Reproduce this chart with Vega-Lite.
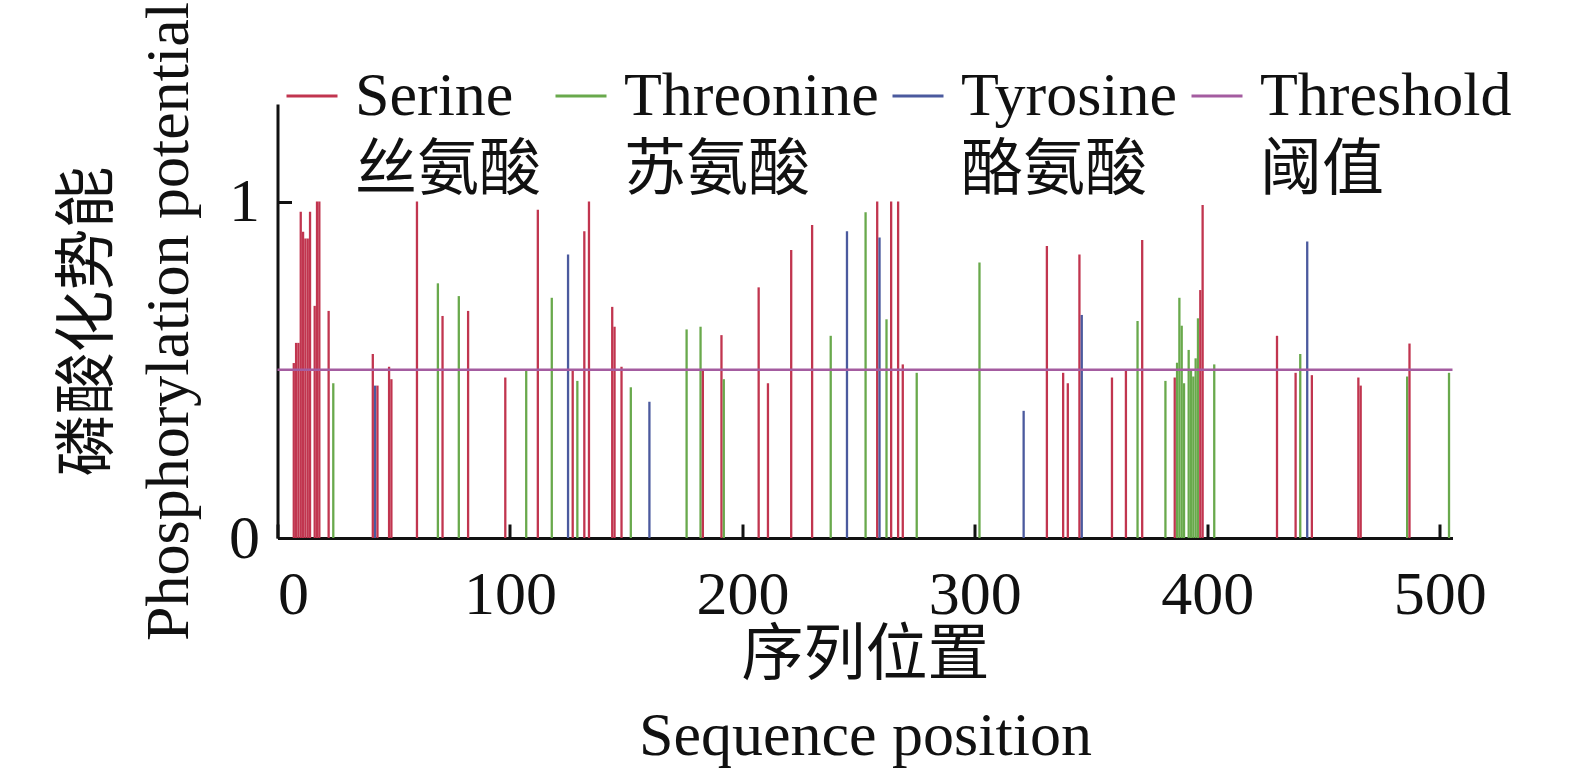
{
  "$schema": "https://vega.github.io/schema/vega-lite/v6.json",
  "description": "Phosphorylation potential by sequence position",
  "width": 1175,
  "height": 434,
  "autosize": "none",
  "padding": {"left": 277.5, "top": 104, "right": 122.5, "bottom": 233},
  "background": "white",
  "datasets": {
    "sites": [
      {"pos": 7, "value": 0.52, "type": "Serine"},
      {"pos": 8, "value": 0.58, "type": "Serine"},
      {"pos": 9, "value": 0.58, "type": "Serine"},
      {"pos": 10, "value": 0.97, "type": "Serine"},
      {"pos": 11, "value": 0.91, "type": "Serine"},
      {"pos": 12, "value": 0.89, "type": "Serine"},
      {"pos": 13, "value": 0.89, "type": "Serine"},
      {"pos": 14, "value": 0.97, "type": "Serine"},
      {"pos": 16, "value": 0.69, "type": "Serine"},
      {"pos": 17, "value": 1.0, "type": "Serine"},
      {"pos": 18, "value": 1.0, "type": "Serine"},
      {"pos": 22, "value": 0.675, "type": "Serine"},
      {"pos": 24, "value": 0.46, "type": "Threonine"},
      {"pos": 41, "value": 0.547, "type": "Serine"},
      {"pos": 42, "value": 0.453, "type": "Tyrosine"},
      {"pos": 43, "value": 0.453, "type": "Serine"},
      {"pos": 48, "value": 0.509, "type": "Serine"},
      {"pos": 49, "value": 0.472, "type": "Serine"},
      {"pos": 60, "value": 1.0, "type": "Serine"},
      {"pos": 69, "value": 0.757, "type": "Threonine"},
      {"pos": 71, "value": 0.66, "type": "Serine"},
      {"pos": 78, "value": 0.719, "type": "Threonine"},
      {"pos": 82, "value": 0.675, "type": "Serine"},
      {"pos": 98, "value": 0.477, "type": "Serine"},
      {"pos": 107, "value": 0.497, "type": "Threonine"},
      {"pos": 112, "value": 0.976, "type": "Serine"},
      {"pos": 118, "value": 0.714, "type": "Threonine"},
      {"pos": 125, "value": 0.843, "type": "Tyrosine"},
      {"pos": 127, "value": 0.497, "type": "Serine"},
      {"pos": 129, "value": 0.467, "type": "Threonine"},
      {"pos": 132, "value": 0.912, "type": "Serine"},
      {"pos": 134, "value": 1.0, "type": "Serine"},
      {"pos": 144, "value": 0.687, "type": "Serine"},
      {"pos": 145, "value": 0.628, "type": "Serine"},
      {"pos": 148, "value": 0.509, "type": "Serine"},
      {"pos": 152, "value": 0.448, "type": "Threonine"},
      {"pos": 160, "value": 0.405, "type": "Tyrosine"},
      {"pos": 176, "value": 0.62, "type": "Threonine"},
      {"pos": 182, "value": 0.628, "type": "Threonine"},
      {"pos": 183, "value": 0.497, "type": "Serine"},
      {"pos": 191, "value": 0.603, "type": "Serine"},
      {"pos": 192, "value": 0.472, "type": "Threonine"},
      {"pos": 207, "value": 0.745, "type": "Serine"},
      {"pos": 211, "value": 0.46, "type": "Serine"},
      {"pos": 221, "value": 0.856, "type": "Serine"},
      {"pos": 230, "value": 0.93, "type": "Serine"},
      {"pos": 238, "value": 0.601, "type": "Threonine"},
      {"pos": 245, "value": 0.912, "type": "Tyrosine"},
      {"pos": 253, "value": 0.968, "type": "Threonine"},
      {"pos": 258, "value": 1.0, "type": "Serine"},
      {"pos": 259, "value": 0.893, "type": "Tyrosine"},
      {"pos": 262, "value": 0.65, "type": "Threonine"},
      {"pos": 264, "value": 1.0, "type": "Serine"},
      {"pos": 267, "value": 1.0, "type": "Serine"},
      {"pos": 269, "value": 0.516, "type": "Serine"},
      {"pos": 275, "value": 0.491, "type": "Threonine"},
      {"pos": 302, "value": 0.819, "type": "Threonine"},
      {"pos": 321, "value": 0.378, "type": "Tyrosine"},
      {"pos": 331, "value": 0.868, "type": "Serine"},
      {"pos": 338, "value": 0.491, "type": "Serine"},
      {"pos": 340, "value": 0.46, "type": "Serine"},
      {"pos": 345, "value": 0.843, "type": "Serine"},
      {"pos": 346, "value": 0.663, "type": "Tyrosine"},
      {"pos": 359, "value": 0.477, "type": "Serine"},
      {"pos": 365, "value": 0.497, "type": "Serine"},
      {"pos": 370, "value": 0.645, "type": "Threonine"},
      {"pos": 372, "value": 0.886, "type": "Serine"},
      {"pos": 382, "value": 0.467, "type": "Threonine"},
      {"pos": 386, "value": 0.477, "type": "Serine"},
      {"pos": 387, "value": 0.521, "type": "Threonine"},
      {"pos": 388, "value": 0.714, "type": "Threonine"},
      {"pos": 389, "value": 0.631, "type": "Threonine"},
      {"pos": 390, "value": 0.46, "type": "Threonine"},
      {"pos": 392, "value": 0.559, "type": "Threonine"},
      {"pos": 393, "value": 0.497, "type": "Threonine"},
      {"pos": 394, "value": 0.48, "type": "Threonine"},
      {"pos": 395, "value": 0.534, "type": "Threonine"},
      {"pos": 396, "value": 0.653, "type": "Threonine"},
      {"pos": 397, "value": 0.737, "type": "Serine"},
      {"pos": 398, "value": 0.99, "type": "Serine"},
      {"pos": 403, "value": 0.516, "type": "Threonine"},
      {"pos": 430, "value": 0.601, "type": "Serine"},
      {"pos": 438, "value": 0.491, "type": "Serine"},
      {"pos": 440, "value": 0.547, "type": "Threonine"},
      {"pos": 443, "value": 0.881, "type": "Tyrosine"},
      {"pos": 445, "value": 0.484, "type": "Serine"},
      {"pos": 465, "value": 0.477, "type": "Serine"},
      {"pos": 466, "value": 0.453, "type": "Serine"},
      {"pos": 486, "value": 0.48, "type": "Threonine"},
      {"pos": 487, "value": 0.578, "type": "Serine"},
      {"pos": 504, "value": 0.491, "type": "Threonine"}
    ],
    "threshold": [
      {"type": "Threshold", "value": 0.5}
    ]
  },
  "layer": [
    {
      "data": {"name": "sites"},
      "mark": {"type": "rule", "strokeWidth": 2.3},
      "encoding": {
        "x": {
          "field": "pos",
          "type": "quantitative",
          "scale": {"domain": [0, 505.5], "nice": false, "zero": false},
          "axis": {
            "values": [0, 100, 200, 300, 400, 500],
            "title": ["序列位置", "Sequence position"],
            "titlePadding": 0,
            "labelPadding": 40
          }
        },
        "y": {
          "field": "value",
          "type": "quantitative",
          "scale": {"domain": [0, 1.29], "nice": false},
          "axis": {
            "values": [0, 1],
            "format": "d",
            "title": ["磷酸化势能", "Phosphorylation potential"],
            "titlePadding": 28,
            "labelPadding": 32
          }
        },
        "y2": {"datum": 0},
        "color": {
          "field": "type",
          "type": "nominal",
          "scale": {
            "domain": ["Serine", "Threonine", "Tyrosine", "Threshold"],
            "range": ["#c1354f", "#69a94c", "#4b5a9e", "#a45ca0"]
          },
          "legend": {
            "orient": "none",
            "direction": "horizontal",
            "legendX": 3.5,
            "legendY": -39,
            "title": null,
            "symbolType": "stroke",
            "symbolSize": 2601,
            "symbolStrokeWidth": 3,
            "labelOffset": 12,
            "columnPadding": 7,
            "labelFontSize": 62,
            "labelBaseline": "middle",
            "labelColor": "#111",
            "labelLimit": 0,
            "labelExpr": "datum.label == 'Serine' ? ['Serine', '丝氨酸'] : datum.label == 'Threonine' ? ['Threonine', '苏氨酸'] : datum.label == 'Tyrosine' ? ['Tyrosine', '酪氨酸'] : ['Threshold', '阈值']"
          }
        }
      }
    },
    {
      "data": {"name": "threshold"},
      "mark": {"type": "rule", "strokeWidth": 2.5},
      "encoding": {
        "y": {"field": "value", "type": "quantitative"},
        "color": {"field": "type", "type": "nominal"}
      }
    }
  ],
  "config": {
    "font": "Liberation Serif, Noto Sans CJK SC",
    "view": {"stroke": null},
    "style": {"guide-label": {"lineHeight": 75}},
    "axis": {
      "grid": false,
      "domainColor": "#111",
      "domainWidth": 3,
      "tickColor": "#111",
      "tickWidth": 3,
      "tickSize": -14,
      "labelFont": "Liberation Serif, Noto Sans CJK SC",
      "labelFontSize": 62,
      "labelColor": "#111",
      "titleFont": "Liberation Serif, Noto Sans CJK SC",
      "titleFontSize": 62,
      "titleFontWeight": "normal",
      "titleColor": "#111",
      "titleLineHeight": 80
    },
    "legend": {
      "labelFont": "Liberation Serif, Noto Sans CJK SC"
    }
  }
}
